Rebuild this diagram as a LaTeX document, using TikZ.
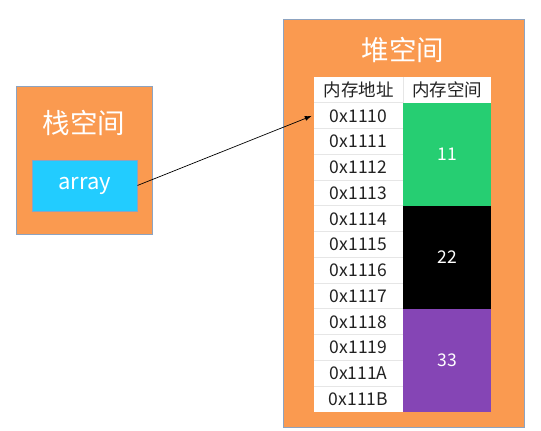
\documentclass[tikz,border=0pt]{standalone}
\usepackage{fontspec}
\setmainfont{Noto Sans CJK SC}
\usepackage{tikz}
\usetikzlibrary{arrows.meta}
\definecolor{boxorange}{HTML}{FA9A50}
\definecolor{boxedge}{HTML}{8DA3C0}
\definecolor{arraycyan}{HTML}{22CCFF}
\definecolor{cellgreen}{HTML}{26CE72}
\definecolor{cellpurple}{HTML}{8545B5}
\definecolor{rowline}{HTML}{E6E6E6}
\definecolor{celltext}{HTML}{222222}

\tikzset{
	spacebox/.style={draw=boxedge, fill=boxorange, line width=0.8pt, anchor=north west, inner sep=0pt},
	title/.style={text=white, font=\fontsize{27.5}{29}\selectfont},
	addrcell/.style={fill=white, minimum width=89pt, minimum height=25.75pt, inner sep=0pt, text=celltext, font=\fontsize{17.5}{19}\selectfont},
	valcell/.style={minimum width=88pt, minimum height=103pt, inner sep=0pt, text=white, font=\fontsize{17.5}{19}\selectfont},
}

\begin{document}
\begin{tikzpicture}[x=1pt,y=-1pt]
	\useasboundingbox (0,0) rectangle (541,431);
	% stack space
	\node[spacebox, minimum width=136pt, minimum height=148pt] (stack) at (16,86) {};
	\node[title] (stacktitle) at (84,123) {栈空间};
	\node[draw=boxedge, fill=arraycyan, line width=0.8pt, minimum width=105pt, minimum height=51pt, inner sep=0pt, text=white, font=\fontsize{22}{24}\selectfont] (arr) at (84.5,185.5) {array};
	% heap space
	\node[spacebox, minimum width=241pt, minimum height=408pt] (heap) at (283,19) {};
	\node[title] (heaptitle) at (403,50) {堆空间};
	\node[addrcell, minimum height=26pt] (h1) at (358.5,90) {内存地址};
	\node[addrcell, minimum width=88pt, minimum height=26pt] (h2) at (447,90) {内存空间};
	\foreach \i/\a in {0/0x1110,1/0x1111,2/0x1112,3/0x1113,4/0x1114,5/0x1115,6/0x1116,7/0x1117,8/0x1118,9/0x1119,10/0x111A,11/0x111B}
	{
		\node[addrcell] (a\i) at (358.5,{115.875+25.75*\i}) {\a};
	}
	\foreach \i in {0,...,11}
	{
		\draw[rowline, line width=1pt] (a\i.north west) -- (a\i.north east);
	}
	\draw[rowline, line width=1pt] (h1.north east) -- (h1.south east);
	\node[valcell, fill=cellgreen] (v1) at (447,154.5) {11};
	\node[valcell, fill=black] (v2) at (447,257.5) {22};
	\node[valcell, fill=cellpurple] (v3) at (447,360.5) {33};
	% pointer
	\draw[-{Latex[length=7pt,width=5pt]}, line width=0.7pt] (arr.east) -- ([xshift=-2pt]a0.west);
\end{tikzpicture}
\end{document}
